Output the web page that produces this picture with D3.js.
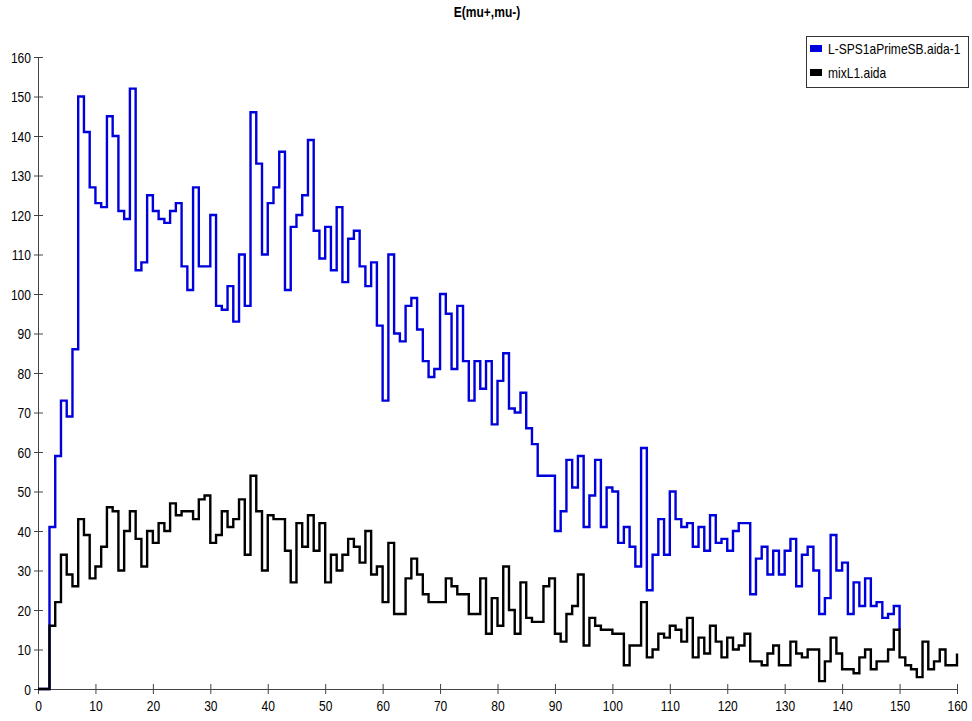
<!DOCTYPE html>
<html>
<head>
<meta charset="utf-8">
<script src="https://cdn.jsdelivr.net/npm/d3@7"></script>
<style>
  html, body { margin: 0; padding: 0; background: #fff; }
  svg { display: block; }
  text { font-family: "Liberation Sans", Arial, sans-serif; }
</style>
</head>
<body>
<svg id="chart" width="972" height="721"></svg>
<script>
// ---- Data (bin lower edges 0,1,2,... ; last element is the value at the final edge) ----
const title = "E(mu+,mu-)";
const seriesNames = ["L-SPS1aPrimeSB.aida-1", "mixL1.aida"];
const xTicks = d3.range(0, 161, 10);
const yTicks = d3.range(0, 161, 10);

const blueValues = [
  0, 0, 41, 59, 73, 69, 86, 150, 141, 127,
  123, 122, 145, 140, 121, 119, 152, 106, 108, 125,
  121, 119, 118, 121, 123, 107, 101, 127, 107, 107,
  120, 97, 96, 102, 93, 110, 97, 146, 133, 110,
  123, 127, 136, 101, 117, 120, 125, 139, 116, 109,
  117, 106, 122, 103, 114, 116, 107, 102, 108, 92,
  73, 110, 90, 88, 97, 99, 91, 83, 79, 81,
  100, 95, 81, 97, 83, 73, 83, 76, 83, 67,
  78, 85, 71, 70, 75, 66, 62, 54, 54, 54,
  40, 45, 58, 51, 59, 41, 49, 58, 41, 51,
  50, 37, 41, 36, 31, 61, 25, 34, 43, 34,
  50, 43, 41, 42, 36, 41, 35, 44, 37, 38,
  35, 40, 42, 42, 24, 33, 36, 29, 35, 29,
  35, 38, 26, 34, 36, 30, 19, 23, 39, 30,
  32, 19, 27, 21, 28, 21, 22, 18, 19, 21,
  15
];

const blackValues = [
  0, 0, 16, 22, 34, 29, 26, 43, 39, 28,
  31, 36, 46, 45, 30, 40, 45, 38, 31, 40,
  37, 42, 40, 47, 44, 45, 45, 43, 48, 49,
  37, 39, 45, 41, 43, 48, 34, 54, 45, 30,
  44, 43, 43, 35, 27, 42, 36, 44, 35, 42,
  27, 34, 30, 34, 38, 36, 32, 40, 29, 31,
  22, 37, 19, 19, 28, 33, 29, 24, 22, 22,
  22, 28, 26, 24, 24, 19, 19, 28, 14, 23,
  16, 31, 20, 14, 27, 18, 17, 17, 26, 28,
  14, 12, 19, 21, 29, 11, 18, 16, 15, 15,
  14, 14, 6, 11, 11, 22, 8, 10, 14, 13,
  16, 15, 12, 18, 8, 13, 9, 16, 12, 8,
  13, 10, 11, 14, 7, 7, 6, 9, 11, 6,
  6, 12, 9, 8, 10, 10, 2, 7, 13, 9,
  5, 5, 4, 8, 10, 5, 7, 7, 10, 15,
  8, 6, 5, 3, 12, 5, 7, 10, 6, 6,
  9
];

const seriesColors = ["#0000dd", "#000000"];

// ---- Chart ----
const svg = d3.select("#chart");
const x = d3.scaleLinear().domain([0, 160]).range([38, 957]);
const y = d3.scaleLinear().domain([0, 160]).range([689, 57]);
const SX = 0.86; // horizontally condensed glyphs, as in the reference

svg.append("text")
  .attr("transform", `translate(487,17) scale(${SX},1)`)
  .attr("text-anchor", "middle")
  .attr("font-size", 14).attr("font-weight", "bold")
  .attr("fill", "#000")
  .text(title);

// Y axis
const yAxis = svg.append("g").attr("transform", "translate(38,0)")
  .call(d3.axisLeft(y).tickValues(yTicks).tickSizeOuter(0));
yAxis.select(".domain").attr("stroke", "#444");
yAxis.selectAll(".tick line").attr("x1", -4).attr("x2", 5).attr("stroke", "#444");
yAxis.selectAll(".tick text")
  .attr("x", 0).attr("dy", null).attr("y", null)
  .attr("transform", `translate(-7,5) scale(${SX},1)`)
  .attr("font-size", 14)
  .attr("font-family", "Liberation Sans, Arial, sans-serif").attr("fill", "#000");

// X axis
const xAxis = svg.append("g").attr("transform", "translate(0,689)")
  .call(d3.axisBottom(x).tickValues(xTicks).tickSizeOuter(0));
xAxis.select(".domain").attr("stroke", "#444");
xAxis.selectAll(".tick line").attr("y1", -5).attr("y2", 5).attr("stroke", "#444");
xAxis.selectAll(".tick text")
  .attr("y", 0).attr("dy", null)
  .attr("transform", `translate(0,22) scale(${SX},1)`)
  .attr("font-size", 14)
  .attr("font-family", "Liberation Sans, Arial, sans-serif").attr("fill", "#000");

// Histograms (step outlines)
const line = d3.line()
  .x(d => x(d[0]))
  .y(d => y(d[1]))
  .curve(d3.curveStepAfter);

[blueValues, blackValues].forEach((vals, k) => {
  svg.append("path")
    .datum(vals.map((v, i) => [i, v]))
    .attr("d", line)
    .attr("fill", "none")
    .attr("stroke", seriesColors[k])
    .attr("stroke-width", 2.4)
    .attr("stroke-linejoin", "miter");
});

// Legend
const lg = svg.append("g");
lg.append("rect")
  .attr("x", 806.5).attr("y", 36.5).attr("width", 162).attr("height", 51)
  .attr("fill", "#fff").attr("stroke", "#333").attr("stroke-width", 1);
seriesNames.forEach((name, i) => {
  lg.append("rect")
    .attr("x", 810).attr("y", 45 + i * 24).attr("width", 12).attr("height", 7)
    .attr("fill", seriesColors[i]);
  lg.append("text")
    .attr("transform", `translate(828,${54 + i * 24}) scale(${SX},1)`)
    .attr("font-size", 14).attr("fill", "#000")
    .text(name);
});
</script>
</body>
</html>
